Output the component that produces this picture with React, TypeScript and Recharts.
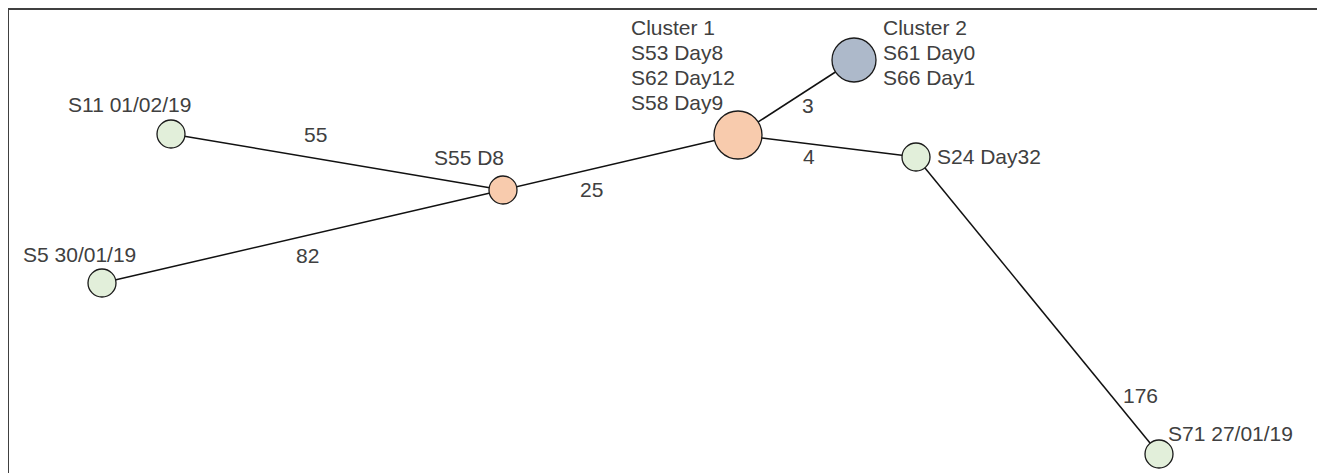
import { ScatterChart, Scatter, XAxis, YAxis } from "recharts";

// node layout (page-pixel units), one entry per node
const nodeIds = ["S11", "S5", "S55", "C1", "C2", "S24", "S71"];
const nodeX = [171, 102, 503, 738, 854, 916, 1159];
const nodeY = [134, 283, 190, 135, 60, 157, 454];
const nodeSamples = [1, 1, 1, 3, 2, 1, 1];
const nodeGroup = ["single", "single", "hub", "hub", "cluster", "single", "single"];
const nodeLabels = [
  ["S11 01/02/19"],
  ["S5 30/01/19"],
  ["S55 D8"],
  ["Cluster 1", "S53 Day8", "S62 Day12", "S58 Day9"],
  ["Cluster 2", "S61 Day0", "S66 Day1"],
  ["S24 Day32"],
  ["S71 27/01/19"],
];

// edges and their distances
const edgeFrom = ["S11", "S5", "S55", "C1", "C1", "S24"];
const edgeTo = ["S55", "S55", "C1", "C2", "S24", "S71"];
const edgeWeight = [55, 82, 25, 3, 4, 176];

// styling
const FONT = "'Liberation Sans', Arial, sans-serif";
const TEXT = "#404040";
const FONT_SIZE = 21;
const LINE_H = 25.3;
const RADIUS: Record<number, number> = { 1: 14, 2: 22, 3: 24 };
const FILL: Record<string, string> = {
  single: "#e2efda",
  hub: "#f8cbad",
  cluster: "#adb9ca",
};
const LABEL_OFFSET: Record<string, [number, number]> = {
  S11: [-103, -22],
  S5: [-79, -21],
  S55: [-69, -25],
  C1: [-107, -100.5],
  C2: [29, -25.5],
  S24: [21, 7],
  S71: [9, -13],
};
const EDGE_LABEL_OFFSET: [number, number][] = [
  [-33, -20],
  [-6.5, 26.5],
  [-40.5, 34.5],
  [6, 15.5],
  [-24, 18],
  [85.5, 97.5],
];

const nodes = nodeIds.map((id, i) => ({
  id,
  x: nodeX[i],
  y: nodeY[i],
  samples: nodeSamples[i],
  group: nodeGroup[i],
  label: nodeLabels[i],
}));
const byId = Object.fromEntries(nodes.map((n) => [n.id, n]));

const edges = edgeFrom.map((f, i) => ({
  a: byId[f],
  b: byId[edgeTo[i]],
  weight: edgeWeight[i],
  idx: i,
}));

const edgeMids = edges.map((e) => ({
  x: (e.a.x + e.b.x) / 2,
  y: (e.a.y + e.b.y) / 2,
  weight: e.weight,
  idx: e.idx,
}));

const NodeShape = (props: any) => {
  const { cx, cy, payload } = props;
  const [dx, dy] = LABEL_OFFSET[payload.id];
  return (
    <g>
      <circle
        cx={cx}
        cy={cy}
        r={RADIUS[payload.samples]}
        fill={FILL[payload.group]}
        stroke="#1a1a1a"
        strokeWidth={1.3}
      />
      <text x={cx + dx} y={cy + dy} fill={TEXT} fontSize={FONT_SIZE} fontFamily={FONT}>
        {payload.label.map((l: string, k: number) => (
          <tspan key={k} x={cx + dx} y={cy + dy + k * LINE_H}>
            {l}
          </tspan>
        ))}
      </text>
    </g>
  );
};

const EdgeLabel = (props: any) => {
  const { cx, cy, payload } = props;
  const [dx, dy] = EDGE_LABEL_OFFSET[payload.idx];
  return (
    <text x={cx + dx} y={cy + dy} fill={TEXT} fontSize={FONT_SIZE} fontFamily={FONT}>
      {payload.weight}
    </text>
  );
};

export default function App() {
  return (
    <div
      style={{
        marginLeft: -1,
        width: 1314,
        height: 465,
        boxSizing: "border-box",
        borderTop: "2px solid #404040",
        borderLeft: "2px solid #404040",
        borderRight: "2px solid #404040",
        background: "#fff",
        overflow: "hidden",
      }}
    >
      <ScatterChart width={1310} height={463} margin={{ top: 0, right: 0, bottom: 0, left: 0 }}>
        <XAxis type="number" dataKey="x" domain={[9, 1319]} hide />
        <YAxis type="number" dataKey="y" domain={[10, 473]} reversed hide />
        {edges.map((e) => (
          <Scatter
            key={`edge-${e.idx}`}
            data={[e.a, e.b]}
            line={{ stroke: "#111", strokeWidth: 1.5 }}
            shape={() => <g />}
            isAnimationActive={false}
          />
        ))}
        <Scatter data={edgeMids} shape={EdgeLabel} isAnimationActive={false} />
        <Scatter data={nodes} shape={NodeShape} isAnimationActive={false} />
      </ScatterChart>
    </div>
  );
}
